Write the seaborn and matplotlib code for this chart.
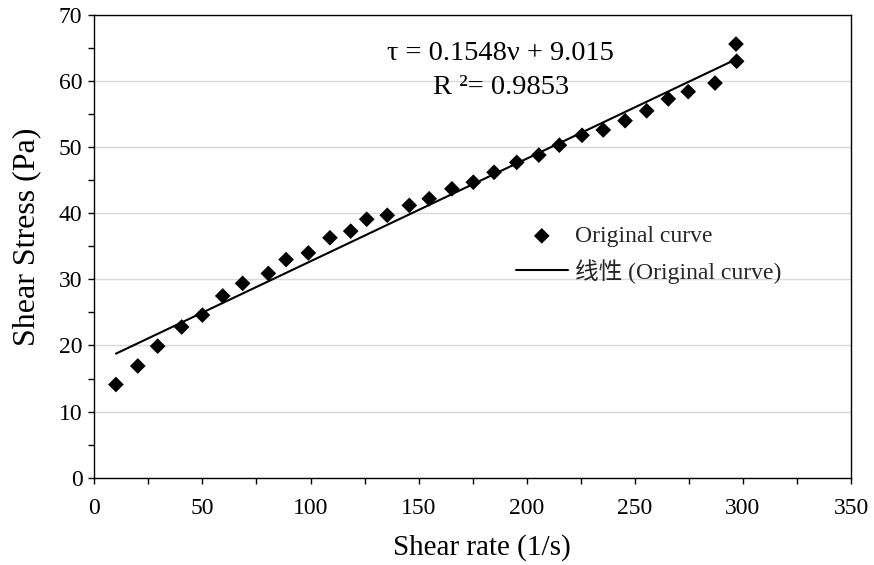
import numpy as np
import pandas as pd
import seaborn as sns
import matplotlib
matplotlib.use("Agg")
import matplotlib.pyplot as plt
from matplotlib.ticker import MultipleLocator

# Measured flow curve: shear rate (1/s) and shear stress (Pa)
shear_rate = [10.0, 20.1, 29.3, 40.4, 50.0, 59.4, 68.6, 80.5, 88.7, 99.0,
              109.0, 118.6, 126.0, 135.5, 145.7, 154.9, 165.4, 175.3, 184.9, 195.4,
              205.6, 215.1, 225.6, 235.4, 245.5, 255.5, 265.5, 274.7, 287.1, 296.8,
              297.1]
shear_stress = [14.1, 16.9, 19.9, 22.8, 24.6, 27.5, 29.4, 30.9, 33.0, 34.0,
                36.3, 37.3, 39.1, 39.7, 41.2, 42.2, 43.7, 44.7, 46.2, 47.7,
                48.8, 50.3, 51.8, 52.6, 54.0, 55.5, 57.3, 58.4, 59.7, 65.6,
                63.0]

series_label = "Original curve"
trend_label = "线性 (Original curve)"
equation_text = "τ = 0.1548ν + 9.015"
r2_text = "R ²= 0.9853"
x_title = "Shear rate (1/s)"
y_title = "Shear Stress (Pa)"

df = pd.DataFrame({"rate": shear_rate, "stress": shear_stress})

sns.set_theme(style="white")
plt.rcParams["font.family"] = ["Liberation Serif", "Noto Sans CJK SC"]

fig = plt.figure(figsize=(8.74, 5.65), dpi=100)
ax = fig.add_axes([0.1079, 0.1545, 0.9737 - 0.1079, 0.9735 - 0.1545])

sns.scatterplot(data=df, x="rate", y="stress", marker="D", s=64, color="black",
                edgecolor="none", linewidth=0, label=series_label, ax=ax, zorder=3)
sns.regplot(data=df, x="rate", y="stress", scatter=False, ci=None, truncate=True,
            color="black", label=trend_label, line_kws=dict(linewidth=1.5), ax=ax)

ax.set_xlim(0, 350)
ax.set_ylim(0, 70)
ax.xaxis.set_major_locator(MultipleLocator(50))
ax.xaxis.set_minor_locator(MultipleLocator(25))
ax.yaxis.set_major_locator(MultipleLocator(10))
ax.yaxis.set_minor_locator(MultipleLocator(5))

ax.grid(axis="y", which="major", color="#d9d9d9", linewidth=1.0, zorder=0)
ax.set_axisbelow(True)

for side in ["left", "bottom", "right", "top"]:
    ax.spines[side].set_visible(True)
    ax.spines[side].set_color("black")
    ax.spines[side].set_linewidth(1.0)

ax.tick_params(axis="both", which="both", direction="out", length=4.5, width=1.0,
               color="black", bottom=True, left=True, top=False, right=False)
ax.tick_params(axis="both", which="major", labelsize=17, labelcolor="black")
ax.tick_params(axis="x", which="major", pad=10)
ax.tick_params(axis="y", which="major", pad=4)

ax.set_xlabel(x_title, fontsize=21, color="black", labelpad=11)
ax.set_ylabel(y_title, fontsize=23, color="black", labelpad=13)
ax.xaxis.label.set_x(0.512)
ax.yaxis.label.set_y(0.52)

ax.text(188, 64.1, equation_text, ha="center", va="center", fontsize=20.5, color="black")
ax.text(188, 59.1, r2_text, ha="center", va="center", fontsize=20.5, color="black")

handles, labels = ax.get_legend_handles_labels()
ax.legend(handles, labels, loc="upper left", bbox_to_anchor=(0.557, 0.545),
          frameon=False, borderpad=0, borderaxespad=0, fontsize=17,
          handlelength=2.2, handletextpad=0.3, labelspacing=0.5)

fig.savefig("out.png", dpi=100)
